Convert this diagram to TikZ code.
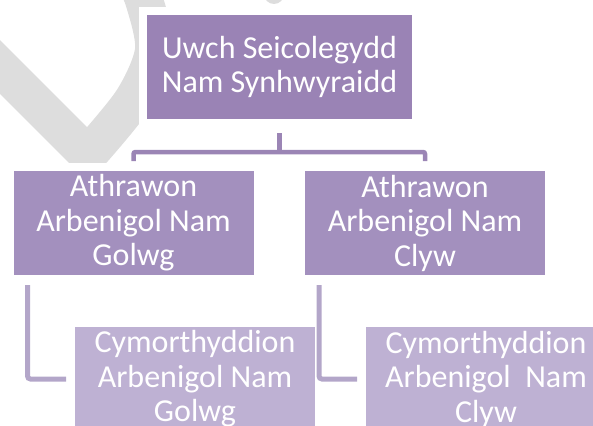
\documentclass[tikz,border=0pt]{standalone}
\usepackage{fontspec}
\setmainfont{Carlito}
\definecolor{topfill}{RGB}{154,131,181}
\definecolor{midfill}{RGB}{163,144,190}
\definecolor{lowfill}{RGB}{190,177,211}
\definecolor{toplink}{RGB}{155,133,181}
\definecolor{lowlink}{RGB}{179,166,201}
\definecolor{wmark}{RGB}{221,221,221}
\tikzset{
  box/.style={draw=white, line width=8pt, inner sep=0pt, text=white, align=center,
    minimum width=248pt, minimum height=112pt,
    font=\fontsize{32}{34.5}\selectfont},
  topbox/.style={box, fill=topfill, minimum width=273pt},
  midbox/.style={box, fill=midfill},
  lowbox/.style={box, fill=lowfill},
  link/.style={draw=toplink, line width=4.5pt, rounded corners=2pt},
  sublink/.style={draw=lowlink, line width=5pt, rounded corners=3pt}
}
\begin{document}
\begin{tikzpicture}[x=1pt,y=-1pt]
\useasboundingbox (0,0) rectangle (593,425);
\clip (0,0) rectangle (593,425);
\draw[wmark, line width=38pt, line join=miter] (-30,37) -- (88,155) -- plot[smooth] coordinates {(88,155) (133,100) (154,50) (144,0) (132,-25)};
\fill[wmark] (274,-6) circle (10);
\node[topbox] (uwch) at (279.5,67) {Uwch Seicolegydd\\Nam Synhwyraidd};
\node[midbox] (golwg) at (133.5,223) {Athrawon\\Arbenigol Nam\\Golwg};
\node[midbox] (clyw) at (425,223) {Athrawon\\Arbenigol Nam\\Clyw};
\node[lowbox] (cgolwg) at (195,379) {Cymorthyddion\\Arbenigol Nam\\Golwg};
\node[lowbox] (cclyw) at (486,379) {Cymorthyddion\\Arbenigol~ Nam\\Clyw};
\draw[link, shorten <=6pt] (uwch.south) -- ++(0,25) coordinate (fork);
\draw[link, shorten <=2pt, shorten >=2pt] (golwg.north) |- (fork) -| (clyw.north);
\draw[sublink, shorten <=2pt, shorten >=1pt] ([xshift=22pt]golwg.south west) |- (cgolwg.west);
\draw[sublink, shorten <=2pt, shorten >=1pt] ([xshift=22pt]clyw.south west) |- (cclyw.west);
\end{tikzpicture}
\end{document}
